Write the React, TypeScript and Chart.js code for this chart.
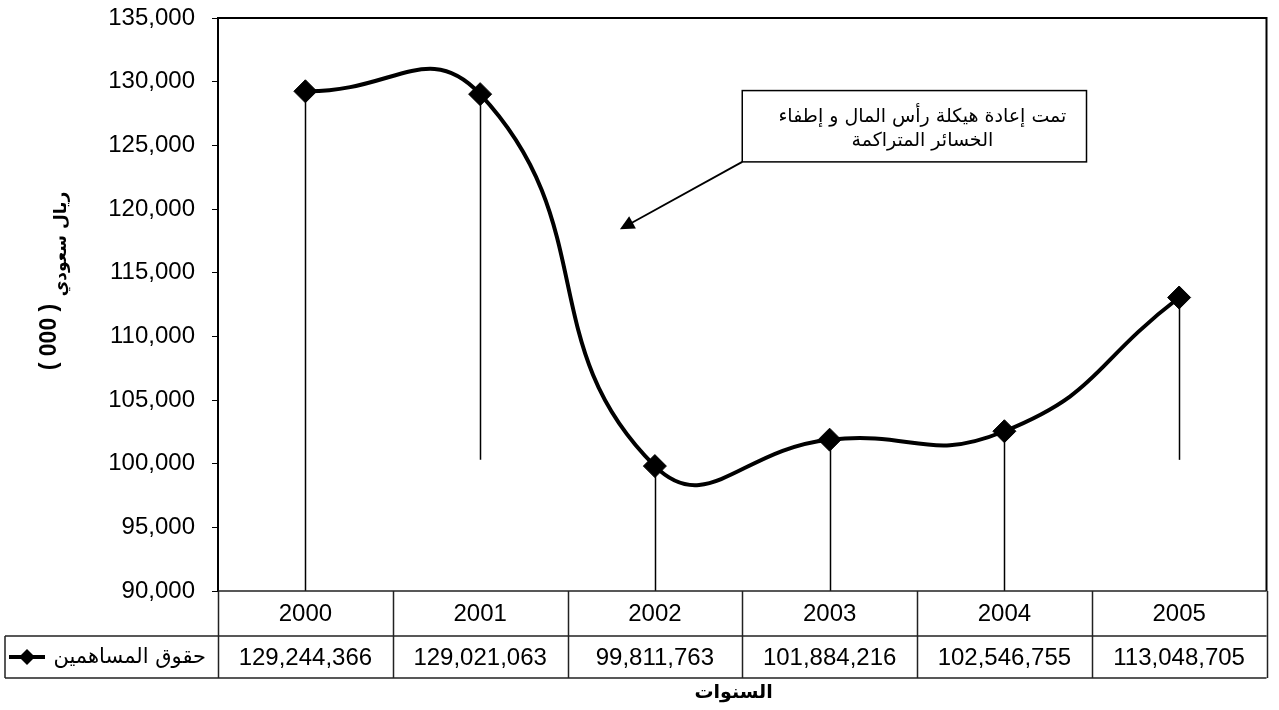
import React, { useEffect, useRef } from 'react';
import { Chart, registerables } from 'chart.js';

Chart.register(...registerables);

// ---- data ----
const years = ['2000', '2001', '2002', '2003', '2004', '2005'];
const shareholdersEquity = [129244366, 129021063, 99811763, 101884216, 102546755, 113048705];
const seriesLabel = 'حقوق المساهمين';
const yMin = 90000;
const yMax = 135000;
const yStep = 5000;
// where each (scanned) drop line ends, in axis units (thousands of SAR)
const dropLineEnds = [90000, 100300, 90000, 90000, 90000, 100300];
const yTitleUnit = '( 000 )';
const yTitleCurrency = 'ريال سعودي';
const xTitle = 'السنوات';
const noteLines = ['تمت إعادة هيكلة رأس المال و إطفاء', 'الخسائر المتراكمة'];

const LATIN = '"Liberation Sans", Arial, sans-serif';
const ARABIC = '"DejaVu Sans", sans-serif';

const fmt = (v: number) => Math.round(v).toLocaleString('en-US');

export default function App() {
  const ref = useRef<HTMLCanvasElement>(null);

  useEffect(() => {
    const canvas = ref.current!;
    const custom = {
      id: 'custom',
      beforeDatasetsDraw(chart: any) {
        const ctx = chart.ctx;
        const ys = chart.scales.y;
        const meta = chart.getDatasetMeta(0);
        ctx.save();
        ctx.strokeStyle = '#000';
        ctx.lineWidth = 1.5;
        meta.data.forEach((pt: any, i: number) => {
          ctx.beginPath();
          ctx.moveTo(Math.round(pt.x) + 0.5, pt.y);
          ctx.lineTo(Math.round(pt.x) + 0.5, ys.getPixelForValue(dropLineEnds[i]));
          ctx.stroke();
        });
        ctx.restore();
      },
      afterDraw(chart: any) {
        const ctx = chart.ctx;
        const ca = chart.chartArea;
        const xs = chart.scales.x;
        const ys = chart.scales.y;
        const n = years.length;
        const colW = (ca.right - ca.left) / n;
        const row1Bottom = ca.bottom + 45;
        const row2Bottom = row1Bottom + 42;
        const legendLeft = 5;

        ctx.save();
        // plot frame (top + right)
        ctx.strokeStyle = '#000';
        ctx.lineWidth = 2;
        ctx.beginPath();
        ctx.moveTo(ca.left, ca.top);
        ctx.lineTo(ca.right, ca.top);
        ctx.lineTo(ca.right, ca.bottom);
        ctx.stroke();

        // data table
        ctx.strokeStyle = '#222';
        ctx.lineWidth = 1.5;
        ctx.beginPath();
        ctx.moveTo(ca.left, ca.bottom);
        ctx.lineTo(ca.right, ca.bottom);
        ctx.moveTo(legendLeft, row1Bottom);
        ctx.lineTo(ca.right, row1Bottom);
        ctx.moveTo(legendLeft, row2Bottom);
        ctx.lineTo(ca.right, row2Bottom);
        ctx.moveTo(legendLeft, row1Bottom);
        ctx.lineTo(legendLeft, row2Bottom);
        for (let i = 0; i <= n; i++) {
          const x = Math.round(ca.left + i * colW) + 0.5;
          ctx.moveTo(x, ca.bottom);
          ctx.lineTo(x, row2Bottom);
        }
        ctx.stroke();

        ctx.fillStyle = '#000';
        ctx.textAlign = 'center';
        ctx.textBaseline = 'middle';
        ctx.font = `24px ${LATIN}`;
        years.forEach((yr, i) => {
          const cx = xs.getPixelForValue(i);
          ctx.fillText(yr, cx, (ca.bottom + row1Bottom) / 2 + 1);
          ctx.fillText(fmt(shareholdersEquity[i]), cx, (row1Bottom + row2Bottom) / 2 + 1);
        });

        // legend key in the table
        const ly = (row1Bottom + row2Bottom) / 2;
        ctx.lineWidth = 4;
        ctx.strokeStyle = '#000';
        ctx.beginPath();
        ctx.moveTo(legendLeft + 4, ly);
        ctx.lineTo(legendLeft + 40, ly);
        ctx.stroke();
        ctx.beginPath();
        const dx = legendLeft + 22;
        ctx.moveTo(dx, ly - 8);
        ctx.lineTo(dx + 8, ly);
        ctx.lineTo(dx, ly + 8);
        ctx.lineTo(dx - 8, ly);
        ctx.closePath();
        ctx.fill();
        ctx.textAlign = 'right';
        ctx.font = `21px ${ARABIC}`;
        ctx.fillText(seriesLabel, ca.left - 12, ly + 1);

        // x title
        ctx.textAlign = 'center';
        ctx.font = `bold 19px ${ARABIC}`;
        ctx.fillText(xTitle, xs.getPixelForValue(2.45), 693);

        // y title (rotated)
        ctx.save();
        ctx.translate(50, 277);
        ctx.rotate(-Math.PI / 2);
        ctx.textAlign = 'center';
        ctx.textBaseline = 'middle';
        ctx.font = `bold 23px ${LATIN}`;
        ctx.fillText(yTitleUnit, -60, 0);
        ctx.font = `bold 17px ${ARABIC}`;
        ctx.fillText(yTitleCurrency, 33, 12);
        ctx.restore();

        // annotation box
        const bx1 = xs.getPixelForValue(2.5);
        const bx2 = xs.getPixelForValue(4.47);
        const by1 = ys.getPixelForValue(129300);
        const by2 = ys.getPixelForValue(123700);
        ctx.strokeStyle = '#000';
        ctx.lineWidth = 1.5;
        ctx.strokeRect(bx1, by1, bx2 - bx1, by2 - by1);
        ctx.font = `19px ${ARABIC}`;
        ctx.textAlign = 'center';
        ctx.fillText(noteLines[0], (bx1 + bx2) / 2 + 8, by1 + 26);
        ctx.fillText(noteLines[1], (bx1 + bx2) / 2 + 8, by1 + 50);

        // arrow
        const tx = xs.getPixelForValue(1.8);
        const ty = ys.getPixelForValue(118400);
        const ang = Math.atan2(ty - by2, tx - bx1);
        ctx.lineWidth = 1.8;
        ctx.beginPath();
        ctx.moveTo(bx1, by2);
        ctx.lineTo(tx - Math.cos(ang) * 8, ty - Math.sin(ang) * 8);
        ctx.stroke();
        ctx.beginPath();
        ctx.moveTo(tx, ty);
        ctx.lineTo(tx - Math.cos(ang - 0.45) * 16, ty - Math.sin(ang - 0.45) * 16);
        ctx.lineTo(tx - Math.cos(ang + 0.45) * 16, ty - Math.sin(ang + 0.45) * 16);
        ctx.closePath();
        ctx.fill();
        ctx.restore();
      },
    };

    const chart = new Chart(canvas, {
      type: 'line',
      data: {
        labels: years,
        datasets: [
          {
            label: seriesLabel,
            data: shareholdersEquity.map((v) => v / 1000),
            borderColor: '#000',
            borderWidth: 4,
            tension: 0.5,
            pointStyle: 'rectRot',
            pointRadius: 11.5,
            pointBackgroundColor: '#000',
            pointBorderColor: '#000',
            pointBorderWidth: 1,
          },
        ],
      },
      options: {
        responsive: false,
        animation: false,
        devicePixelRatio: 1,
        layout: { padding: { left: 0, top: 18, right: 5, bottom: 119 } },
        plugins: { legend: { display: false }, tooltip: { enabled: false } },
        scales: {
          x: { display: false, offset: true },
          y: {
            min: yMin,
            max: yMax,
            ticks: {
              stepSize: yStep,
              color: '#000',
              padding: 17,
              font: { family: LATIN, size: 24 },
              callback: (v: any) => fmt(Number(v)),
            },
            grid: { drawOnChartArea: false, tickLength: 6, color: '#000' },
            border: { color: '#000', width: 2 },
            afterFit: (s: any) => {
              s.width = 218;
              s.paddingTop = 0;
              s.paddingBottom = 0;
            },
          },
        },
      },
      plugins: [custom],
    } as any);
    return () => chart.destroy();
  }, []);

  return (
    <div style={{ position: 'absolute', left: 0, top: 0, width: 1279, height: 710, background: '#fff' }}>
      <canvas ref={ref} width={1279} height={710} style={{ width: 1279, height: 710, display: 'block' }} />
    </div>
  );
}
